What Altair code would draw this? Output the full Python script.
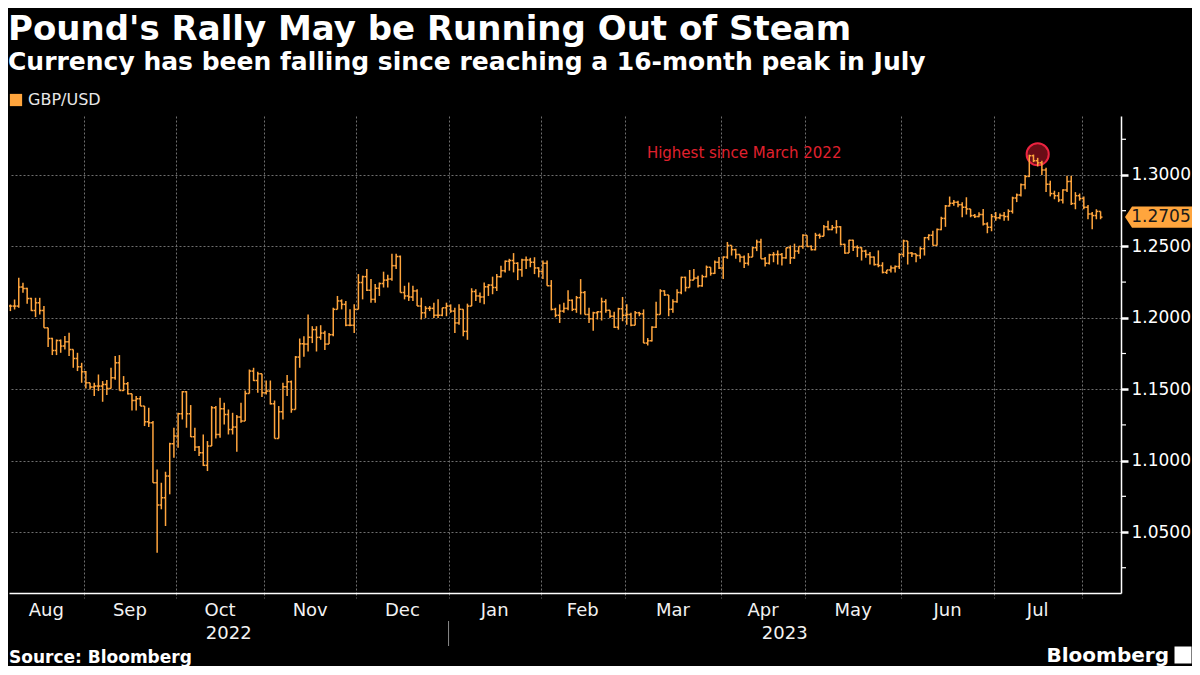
import altair as alt
import pandas as pd

# ---------------- data ----------------
dates = [d.strftime("%Y-%m-%d") for d in pd.bdate_range("2022-08-04", "2023-08-07")]

close = [
    1.2163, 1.2082, 1.2082, 1.2082, 1.2215, 1.2205, 1.2135, 1.2051, 1.2105, 1.2051,
    1.1930, 1.1855, 1.1771, 1.1841, 1.1802, 1.1832, 1.1778, 1.1715, 1.1657, 1.1622,
    1.1545, 1.1515, 1.1522, 1.1522, 1.1533, 1.1505, 1.1580, 1.1685, 1.1491, 1.1538,
    1.1468, 1.1421, 1.1433, 1.1382, 1.1272, 1.1265, 1.0845, 1.0689, 1.0740, 1.0892,
    1.1118, 1.1172, 1.1328, 1.1482, 1.1328, 1.1167, 1.1095, 1.1055, 1.0967, 1.1102,
    1.1370, 1.1183, 1.1363, 1.1323, 1.1218, 1.1235, 1.1305, 1.1277, 1.1470, 1.1627,
    1.1561, 1.1608, 1.1475, 1.1487, 1.1398, 1.1155, 1.1342, 1.1517, 1.1552, 1.1358,
    1.1725, 1.1818,
    1.1816, 1.1863, 1.1917, 1.1863, 1.1893, 1.1816, 1.1882, 1.2059,
    1.2118, 1.2094, 1.1948, 1.1948, 1.2059, 1.2247, 1.2288, 1.2193, 1.2129, 1.2207,
    1.2240, 1.2264, 1.2271, 1.2365, 1.2429, 1.2177, 1.2153, 1.2146, 1.2188, 1.2082,
    1.2035, 1.2066, 1.2066, 1.2018, 1.2018, 1.2070, 1.2082, 1.2047, 1.1964, 1.2059,
    1.1905, 1.2082, 1.2184, 1.2153, 1.2146, 1.2217, 1.2229, 1.2212, 1.2288, 1.2330,
    1.2396, 1.2401, 1.2382, 1.2337, 1.2405, 1.2405, 1.2389, 1.2349, 1.2325, 1.2382,
    1.2224, 1.2059, 1.2018, 1.2047, 1.2066, 1.2122, 1.2059, 1.2141, 1.2177, 1.2023,
    1.1993, 1.2035, 1.2042, 1.2113, 1.2052, 1.2011, 1.1934, 1.2063, 1.2018, 1.2023,
    1.1948, 1.2035, 1.2028, 1.1823, 1.1839, 1.1934, 1.2023, 1.2188, 1.2160, 1.2059,
    1.2113, 1.2177, 1.2283, 1.2212, 1.2264, 1.2278, 1.2224,
    1.2288, 1.2354, 1.2311, 1.2389, 1.2349, 1.2425, 1.2507, 1.2477, 1.2443, 1.2425,
    1.2382, 1.2425, 1.2491, 1.2531, 1.2413, 1.2382, 1.2441, 1.2443, 1.2443, 1.2420,
    1.2491, 1.2420, 1.2467, 1.2500, 1.2578, 1.2500, 1.2477, 1.2578, 1.2571, 1.2637,
    1.2618, 1.2632, 1.2637, 1.2514, 1.2453, 1.2543, 1.2495, 1.2491, 1.2467, 1.2443,
    1.2425, 1.2373, 1.2366, 1.2318, 1.2335, 1.2349, 1.2359, 1.2443, 1.2538, 1.2453,
    1.2448, 1.2436, 1.2484, 1.2561, 1.2578, 1.2507, 1.2618, 1.2696, 1.2783, 1.2802,
    1.2809, 1.2792, 1.2774, 1.2762, 1.2716, 1.2709, 1.2723, 1.2657, 1.2634, 1.2709,
    1.2700, 1.2716, 1.2709, 1.2746, 1.2839, 1.2860, 1.2932, 1.2990, 1.3135, 1.3100,
    1.3085, 1.3035, 1.2935, 1.2870, 1.2855, 1.2825, 1.2895, 1.2955, 1.2800, 1.2855,
    1.2835, 1.2774, 1.2727, 1.2716, 1.2745, 1.2705,
]

open_ = [
    1.2150,
    1.2163, 1.2082, 1.2082, 1.2082, 1.2215, 1.2205, 1.2135, 1.2051, 1.2105, 1.2051,
    1.1930, 1.1855, 1.1771, 1.1841, 1.1802, 1.1832, 1.1778, 1.1715, 1.1657, 1.1622,
    1.1545, 1.1515, 1.1522, 1.1522, 1.1533, 1.1505, 1.1580, 1.1685, 1.1491, 1.1538,
    1.1468, 1.1421, 1.1433, 1.1382, 1.1272, 1.1265, 1.0845, 1.0689, 1.0740, 1.0892,
    1.1118, 1.1172, 1.1328, 1.1482, 1.1328, 1.1167, 1.1095, 1.1055, 1.0967, 1.1102,
    1.1370, 1.1183, 1.1363, 1.1323, 1.1218, 1.1235, 1.1305, 1.1277, 1.1470, 1.1627,
    1.1561, 1.1608, 1.1475, 1.1487, 1.1398, 1.1155, 1.1342, 1.1517, 1.1552, 1.1358,
    1.1725, 1.1818,
    1.1816, 1.1863, 1.1917, 1.1863, 1.1893, 1.1816, 1.1882, 1.2059,
    1.2118, 1.2094, 1.1948, 1.1948, 1.2059, 1.2247, 1.2288, 1.2193, 1.2129, 1.2207,
    1.2240, 1.2264, 1.2271, 1.2365, 1.2429, 1.2177, 1.2153, 1.2146, 1.2188, 1.2082,
    1.2035, 1.2066, 1.2066, 1.2018, 1.2018, 1.2070, 1.2082, 1.2047, 1.1964, 1.2059,
    1.1905, 1.2082, 1.2184, 1.2153, 1.2146, 1.2217, 1.2229, 1.2212, 1.2288, 1.2330,
    1.2396, 1.2401, 1.2382, 1.2337, 1.2405, 1.2405, 1.2389, 1.2349, 1.2325, 1.2382,
    1.2224, 1.2059, 1.2018, 1.2047, 1.2066, 1.2122, 1.2059, 1.2141, 1.2177, 1.2023,
    1.1993, 1.2035, 1.2042, 1.2113, 1.2052, 1.2011, 1.1934, 1.2063, 1.2018, 1.2023,
    1.1948, 1.2035, 1.2028, 1.1823, 1.1839, 1.1934, 1.2023, 1.2188, 1.2160, 1.2059,
    1.2113, 1.2177, 1.2283, 1.2212, 1.2264, 1.2278, 1.2224,
    1.2288, 1.2354, 1.2311, 1.2389, 1.2349, 1.2425, 1.2507, 1.2477, 1.2443, 1.2425,
    1.2382, 1.2425, 1.2491, 1.2531, 1.2413, 1.2382, 1.2441, 1.2443, 1.2443, 1.2420,
    1.2491, 1.2420, 1.2467, 1.2500, 1.2578, 1.2500, 1.2477, 1.2578, 1.2571, 1.2637,
    1.2618, 1.2632, 1.2637, 1.2514, 1.2453, 1.2543, 1.2495, 1.2491, 1.2467, 1.2443,
    1.2425, 1.2373, 1.2366, 1.2318, 1.2335, 1.2349, 1.2359, 1.2443, 1.2538, 1.2453,
    1.2448, 1.2436, 1.2484, 1.2561, 1.2578, 1.2507, 1.2618, 1.2696, 1.2783, 1.2802,
    1.2809, 1.2792, 1.2774, 1.2762, 1.2716, 1.2709, 1.2723, 1.2657, 1.2634, 1.2709,
    1.2700, 1.2716, 1.2709, 1.2746, 1.2839, 1.2860, 1.2932, 1.2990, 1.3135, 1.3100,
    1.3085, 1.3035, 1.2935, 1.2870, 1.2855, 1.2825, 1.2895, 1.2955, 1.2800, 1.2855,
    1.2835, 1.2774, 1.2727, 1.2716, 1.2745,
]

high = [
    1.2210, 1.2163, 1.2093, 1.2128, 1.2280, 1.2245, 1.2210, 1.2140, 1.2140, 1.2140,
    1.2082, 1.1930, 1.1860, 1.1848, 1.1848, 1.1872, 1.1895, 1.1778, 1.1755, 1.1685,
    1.1627, 1.1545, 1.1545, 1.1603, 1.1557, 1.1564, 1.1650, 1.1732, 1.1739, 1.1592,
    1.1550, 1.1463, 1.1452, 1.1452, 1.1370, 1.1370, 1.1277, 1.0938, 1.0845, 1.0922,
    1.1125, 1.1230, 1.1335, 1.1487, 1.1487, 1.1389, 1.1230, 1.1102, 1.1183, 1.1137,
    1.1382, 1.1382, 1.1440, 1.1405, 1.1358, 1.1335, 1.1319, 1.1405, 1.1491, 1.1638,
    1.1650, 1.1622, 1.1608, 1.1561, 1.1561, 1.1421, 1.1382, 1.1545, 1.1599, 1.1561,
    1.1732, 1.1855,
    1.1870, 1.2023, 1.1941, 1.1941, 1.1948, 1.1910, 1.1893, 1.2070,
    1.2153, 1.2129, 1.2118, 1.2059, 1.2094, 1.2306, 1.2295, 1.2342, 1.2271, 1.2236,
    1.2247, 1.2323, 1.2302, 1.2448, 1.2448, 1.2436, 1.2224, 1.2247, 1.2224, 1.2200,
    1.2141, 1.2082, 1.2082, 1.2106, 1.2129, 1.2070, 1.2106, 1.2094, 1.2070, 1.2094,
    1.2059, 1.2099, 1.2207, 1.2200, 1.2177, 1.2247, 1.2236, 1.2288, 1.2306, 1.2365,
    1.2401, 1.2413, 1.2453, 1.2389, 1.2413, 1.2429, 1.2420, 1.2424, 1.2354, 1.2401,
    1.2401, 1.2264, 1.2070, 1.2094, 1.2106, 1.2193, 1.2129, 1.2153, 1.2271, 1.2188,
    1.2070, 1.2042, 1.2047, 1.2141, 1.2129, 1.2023, 1.2042, 1.2070, 1.2146, 1.2094,
    1.2035, 1.2047, 1.2042, 1.2059, 1.1858, 1.1941, 1.2113, 1.2200, 1.2193, 1.2129,
    1.2129, 1.2200, 1.2288, 1.2288, 1.2335, 1.2342, 1.2295,
    1.2302, 1.2366, 1.2349, 1.2401, 1.2425, 1.2429, 1.2531, 1.2507, 1.2484, 1.2443,
    1.2436, 1.2453, 1.2495, 1.2547, 1.2554, 1.2425, 1.2448, 1.2460, 1.2472, 1.2453,
    1.2491, 1.2507, 1.2519, 1.2500, 1.2585, 1.2571, 1.2507, 1.2595, 1.2590, 1.2649,
    1.2680, 1.2649, 1.2684, 1.2642, 1.2519, 1.2547, 1.2547, 1.2507, 1.2495, 1.2477,
    1.2460, 1.2429, 1.2472, 1.2389, 1.2335, 1.2366, 1.2366, 1.2453, 1.2547, 1.2538,
    1.2460, 1.2448, 1.2495, 1.2566, 1.2585, 1.2609, 1.2625, 1.2708, 1.2790, 1.2849,
    1.2825, 1.2820, 1.2809, 1.2844, 1.2762, 1.2727, 1.2739, 1.2762, 1.2669, 1.2727,
    1.2740, 1.2730, 1.2740, 1.2760, 1.2848, 1.2870, 1.2940, 1.3000, 1.3142, 1.3143,
    1.3120, 1.3100, 1.3050, 1.2960, 1.2890, 1.2880, 1.2900, 1.2995, 1.2995, 1.2880,
    1.2870, 1.2850, 1.2790, 1.2740, 1.2760, 1.2730,
]

low = [
    1.2012, 1.2005, 1.2047, 1.2058, 1.2070, 1.2175, 1.2098, 1.2047, 1.2005, 1.2023,
    1.1930, 1.1795, 1.1739, 1.1739, 1.1755, 1.1778, 1.1732, 1.1650, 1.1627, 1.1545,
    1.1505, 1.1498, 1.1452, 1.1487, 1.1412, 1.1459, 1.1557, 1.1567, 1.1491, 1.1487,
    1.1463, 1.1351, 1.1351, 1.1382, 1.1242, 1.1235, 1.0845, 1.0355, 1.0659, 1.0542,
    1.0764, 1.1020, 1.1090, 1.1288, 1.1230, 1.1165, 1.1067, 1.1032, 1.0962, 1.0927,
    1.1113, 1.1155, 1.1160, 1.1253, 1.1183, 1.1183, 1.1062, 1.1265, 1.1277, 1.1475,
    1.1557, 1.1475, 1.1445, 1.1463, 1.1393, 1.1155, 1.1288, 1.1288, 1.1452, 1.1335,
    1.1358, 1.1650,
    1.1728, 1.1764, 1.1823, 1.1764, 1.1846, 1.1775, 1.1858, 1.1870,
    1.2059, 1.2059, 1.1941, 1.1941, 1.1893, 1.2059, 1.2129, 1.2188, 1.2106, 1.2106,
    1.2153, 1.2212, 1.2212, 1.2259, 1.2342, 1.2177, 1.2129, 1.2118, 1.2118, 1.2082,
    1.1988, 1.1999, 1.2047, 1.1999, 1.1999, 1.2011, 1.2011, 1.2035, 1.1893, 1.1952,
    1.1870, 1.1846, 1.2082, 1.2118, 1.2106, 1.2094, 1.2153, 1.2165, 1.2188, 1.2283,
    1.2318, 1.2330, 1.2318, 1.2264, 1.2288, 1.2342, 1.2354, 1.2306, 1.2283, 1.2271,
    1.2224, 1.2052, 1.2004, 1.1964, 1.2035, 1.2052, 1.2047, 1.2035, 1.2023, 1.2023,
    1.1964, 1.1910, 1.1988, 1.1981, 1.2035, 1.1999, 1.1929, 1.1917, 1.1976, 1.1952,
    1.1941, 1.1948, 1.2011, 1.1823, 1.1806, 1.1834, 1.1929, 1.2023, 1.2153, 1.2011,
    1.2035, 1.2106, 1.2165, 1.2184, 1.2212, 1.2271, 1.2212,
    1.2217, 1.2283, 1.2295, 1.2307, 1.2342, 1.2271, 1.2413, 1.2436, 1.2413, 1.2389,
    1.2349, 1.2366, 1.2425, 1.2467, 1.2413, 1.2359, 1.2373, 1.2389, 1.2373, 1.2366,
    1.2413, 1.2377, 1.2413, 1.2448, 1.2484, 1.2495, 1.2472, 1.2472, 1.2554, 1.2571,
    1.2613, 1.2613, 1.2590, 1.2507, 1.2448, 1.2472, 1.2467, 1.2425, 1.2401, 1.2420,
    1.2373, 1.2366, 1.2354, 1.2311, 1.2307, 1.2318, 1.2318, 1.2342, 1.2425, 1.2373,
    1.2425, 1.2389, 1.2413, 1.2436, 1.2543, 1.2507, 1.2514, 1.2613, 1.2637, 1.2779,
    1.2785, 1.2774, 1.2704, 1.2723, 1.2704, 1.2699, 1.2704, 1.2646, 1.2592, 1.2606,
    1.2680, 1.2690, 1.2680, 1.2680, 1.2730, 1.2810, 1.2850, 1.2900, 1.2985, 1.3090,
    1.3060, 1.3000, 1.2880, 1.2850, 1.2830, 1.2810, 1.2800, 1.2880, 1.2790, 1.2760,
    1.2820, 1.2760, 1.2690, 1.2620, 1.2690, 1.2690,
]

month_labels = ["Aug", "Sep", "Oct", "Nov", "Dec", "Jan", "Feb", "Mar", "Apr", "May", "Jun", "Jul"]
year_labels = ["2022", "2023"]
series_name = "GBP/USD"
major_ticks = [1.05, 1.10, 1.15, 1.20, 1.25, 1.30]
minor_ticks = [1.025, 1.075, 1.125, 1.175, 1.225, 1.275, 1.325]

peak_date = ["2023-07-17"]
peak_value = [1.3145]
note_date = ["2023-04-10"]
note_value = [1.3154]
note_text = ["Highest since March 2022"]

assert len(dates) == len(close) == len(open_) == len(high) == len(low)

# ---------------- frames ----------------
df = pd.DataFrame({"date": dates, "open": open_, "high": high, "low": low, "close": close})
df["idx"] = list(range(len(df)))
df["series"] = series_name
df["hi"] = df[["high", "open", "close"]].max(axis=1)
df["lo"] = df[["low", "open", "close"]].min(axis=1)

W, H = 1112, 477
X0, X1 = 1.67, 266.87
Y0, Y1 = 1.0073, 1.3413
ORANGE = "#ffa53d"
GRID = "#6e6e6e"
FONT = "DejaVu Sans"

dt = pd.to_datetime(pd.Series(dates))
per = dt.dt.to_period("M")
starts = [i for i in range(len(dates)) if i == 0 or per[i] != per[i - 1]]
bounds = [s - 0.5 for s in starts[1:]]
edges = [X0] + bounds
mids = [(edges[i] + edges[i + 1]) / 2 for i in range(len(month_labels))]
jan_b = next(s - 0.5 for s in starts if dt[s].year == 2023)
year_mids = [(X0 + jan_b) / 2, (jan_b + X1) / 2]

months_df = pd.DataFrame({"mid": mids, "label": month_labels})
years_df = pd.DataFrame({"mid": year_mids, "label": year_labels})
div_df = pd.DataFrame({"b": [jan_b]})
minor_df = pd.DataFrame({"v": minor_ticks})
peak_df = pd.DataFrame({"idx": [dates.index(d) for d in peak_date], "v": peak_value})
note_df = pd.DataFrame({"idx": [dates.index(d) for d in note_date], "v": note_value, "t": note_text})
last_df = pd.DataFrame({"v": [close[-1]], "t": [f"{close[-1]:.4f}"]})
foot_df = pd.DataFrame({"t": ["Source: Bloomberg"]})
logo_df = pd.DataFrame({"t": ["Bloomberg"]})

xs = alt.Scale(domain=[X0, X1], nice=False, zero=False)
ys = alt.Scale(domain=[Y0, Y1], nice=False, zero=False)

x_axis = alt.Axis(values=bounds, labels=False, ticks=True, tickSize=5, tickColor=GRID,
                  tickDash=[2, 2], grid=True, gridColor=GRID,
                  gridDash=[2, 2], gridWidth=1, domain=True, domainColor="#ffffff",
                  domainWidth=1.5, title=None)
y_axis = alt.Axis(orient="right", values=major_ticks, format=".4f", title=None,
                  labelFont=FONT, labelFontSize=17, labelColor="#ffffff", labelPadding=3,
                  labelOverlap=False, labelFlush=False,
                  tickColor="#ffffff", tickWidth=2.5, tickSize=7,
                  grid=True, gridColor=GRID, gridDash=[2, 2], gridWidth=1,
                  domainColor="#ffffff", domainWidth=1.5)

base = alt.Chart(df)

circle = alt.Chart(peak_df).mark_circle(size=490, fill="#6a0d16", stroke="#ec2340",
                                        strokeWidth=2, opacity=1).encode(
    x=alt.X("idx:Q", scale=xs), y=alt.Y("v:Q", scale=ys))

vert = base.mark_rule(strokeWidth=1.5, clip=True).encode(
    x=alt.X("idx:Q", scale=xs, axis=x_axis),
    y=alt.Y("lo:Q", scale=ys, axis=y_axis),
    y2="hi:Q",
    color=alt.Color("series:N", scale=alt.Scale(range=[ORANGE]),
                    legend=alt.Legend(title=None, orient="none", legendX=-1, legendY=-24,
                                      padding=0, symbolType="square", symbolSize=150,
                                      symbolFillColor=ORANGE, symbolStrokeColor=ORANGE,
                                      symbolStrokeWidth=0, labelColor="#e8e8e8",
                                      labelFont=FONT, labelFontSize=16, labelOffset=4)))

open_tick = base.transform_calculate(xl="datum.idx - 0.45").mark_rule(
    strokeWidth=1.5, color=ORANGE, clip=True).encode(
    x=alt.X("xl:Q", scale=xs), x2="idx:Q", y=alt.Y("open:Q", scale=ys))

close_tick = base.transform_calculate(xr="datum.idx + 0.45").mark_rule(
    strokeWidth=1.5, color=ORANGE, clip=True).encode(
    x=alt.X("idx:Q", scale=xs), x2="xr:Q", y=alt.Y("close:Q", scale=ys))

minor = alt.Chart(minor_df).mark_rule(color="#ffffff", strokeWidth=1.2).encode(
    y=alt.Y("v:Q", scale=ys), x=alt.value(W), x2=alt.value(W + 5))

note = alt.Chart(note_df).mark_text(font=FONT, fontSize=15, color="#e0212e", align="center",
                                    baseline="middle").encode(
    x=alt.X("idx:Q", scale=xs), y=alt.Y("v:Q", scale=ys), text="t:N")

tag = alt.Chart(last_df).mark_point(
    shape="M-1,0L-0.79,-0.32L1,-0.32L1,0.32L-0.79,0.32Z", filled=True, size=4489,
    color=ORANGE, opacity=1).encode(
    x=alt.value(W + 37.5), y=alt.Y("v:Q", scale=ys))

tag_text = alt.Chart(last_df).mark_text(font=FONT, fontSize=17, color="#1a1a1a",
                                        align="center", baseline="middle").encode(
    x=alt.value(W + 40), y=alt.Y("v:Q", scale=ys), text="t:N")

months = alt.Chart(months_df).mark_text(font=FONT, fontSize=18, color="#f2f2f2",
                                        align="center", baseline="middle").encode(
    x=alt.X("mid:Q", scale=xs), y=alt.value(H + 18), text="label:N")

years = alt.Chart(years_df).mark_text(font=FONT, fontSize=18, color="#f2f2f2",
                                      align="center", baseline="middle").encode(
    x=alt.X("mid:Q", scale=xs), y=alt.value(H + 41), text="label:N")

divider = alt.Chart(div_df).mark_rule(color="#8a8a8a", strokeWidth=1).encode(
    x=alt.X("b:Q", scale=xs), y=alt.value(H + 28), y2=alt.value(H + 53))

footer = alt.Chart(foot_df).mark_text(font=FONT, fontSize=17, fontWeight="bold",
                                      color="#ffffff", align="left", baseline="middle").encode(
    x=alt.value(0), y=alt.value(H + 65), text="t:N")

logo = alt.Chart(logo_df).mark_text(font=FONT, fontSize=20, fontWeight="bold",
                                    color="#ffffff", align="right", baseline="middle").encode(
    x=alt.value(1160), y=alt.value(H + 63), text="t:N")

logo_box = alt.Chart(logo_df).mark_point(shape="square", filled=True, size=289,
                                         color="#ffffff", opacity=1).encode(
    x=alt.value(1174), y=alt.value(H + 62))

chart = alt.layer(
    circle, vert, open_tick, close_tick, minor, note, tag, tag_text,
    months, years, divider, footer, logo, logo_box
).properties(
    width=W, height=H,
    padding={"left": 0, "top": 5, "right": 0, "bottom": 0},
    title=alt.TitleParams(
        text="Pound's Rally May be Running Out of Steam",
        subtitle="Currency has been falling since reaching a 16-month peak in July",
        anchor="start", font=FONT, subtitleFont=FONT, fontSize=34, subtitleFontSize=25,
        fontWeight="bold", subtitleFontWeight="bold", color="#ffffff",
        subtitleColor="#ffffff", offset=17, subtitlePadding=3),
).configure(background="#000000").configure_view(stroke=None)

chart.save("out.html", embed_options={"renderer": "svg", "actions": False})
